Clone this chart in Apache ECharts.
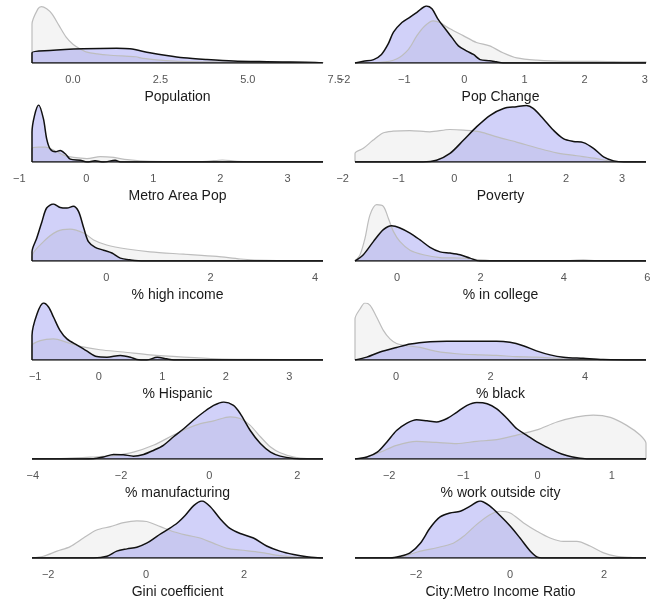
<!DOCTYPE html>
<html>
<head>
<meta charset="utf-8">
<script src="https://cdn.jsdelivr.net/npm/echarts@6/dist/echarts.min.js"></script>
<style>
  html, body { margin: 0; padding: 0; background: #fff; }
  #chart { width: 667px; height: 604px; }
</style>
</head>
<body>
<div id="chart"></div>
<script>
// panel titles, x ranges of the densities, tick values
const titles = ['Population', 'Pop Change', 'Metro Area Pop', 'Poverty', '% high income', '% in college',
  '% Hispanic', '% black', '% manufacturing', '% work outside city', 'Gini coefficient', 'City:Metro Income Ratio'];
const ranges = [[-1.17, 7.15], [-1.82, 3.02], [-0.81, 3.53], [-1.78, 3.43], [-1.42, 4.15], [-1.01, 5.97],
  [-1.05, 3.53], [-0.87, 5.29], [-4.02, 2.58], [-2.46, 1.46], [-2.33, 3.61], [-3.30, 2.89]];
const ticks = [[0, 2.5, 5, 7.5], [-2, -1, 0, 1, 2, 3], [-1, 0, 1, 2, 3], [-2, -1, 0, 1, 2, 3], [0, 2, 4], [0, 2, 4, 6],
  [-1, 0, 1, 2, 3], [0, 2, 4], [-4, -2, 0, 2], [-2, -1, 0, 1], [-2, 0, 2], [-2, 0, 2]];
const tickDecimals = [1, 0, 0, 0, 0, 0, 0, 0, 0, 0, 0, 0];

// densities (relative height), grey = all places, blue = selected
const popGrey = [[-1.17,0],[-1.17,0.68],[-1.0,0.95],[-0.9,0.99],[-0.75,0.95],[-0.6,0.86],[-0.4,0.66],[-0.2,0.46],[0,0.33],[0.2,0.25],[0.4,0.19],[0.7,0.16],[1.0,0.14],[1.5,0.12],[1.8,0.11],[2.0,0.08],[2.5,0.05],[3.0,0.03],[4.0,0.02],[5.0,0.012],[7.15,0.008],[7.15,0]];
const popBlue = [[-1.17,0],[-1.17,0.18],[-0.66,0.22],[0.3,0.25],[1.25,0.26],[1.63,0.25],[2.2,0.18],[2.68,0.13],[3.16,0.09],[3.83,0.06],[4.59,0.035],[5.55,0.024],[7.15,0.01],[7.15,0]];
const chgGrey = [[-1.82,0],[-1.4,0.01],[-1.13,0.07],[-0.93,0.24],[-0.79,0.48],[-0.66,0.65],[-0.52,0.74],[-0.41,0.71],[-0.24,0.6],[-0.02,0.48],[0.2,0.36],[0.42,0.3],[0.64,0.18],[0.87,0.09],[1.2,0.05],[1.64,0.03],[2.2,0.03],[2.75,0.02],[3.02,0.02],[3.02,0]];
const chgBlue = [[-1.82,0],[-1.68,0.03],[-1.51,0.06],[-1.38,0.15],[-1.27,0.33],[-1.18,0.54],[-1.04,0.71],[-0.91,0.8],[-0.79,0.89],[-0.63,1.0],[-0.54,0.95],[-0.44,0.77],[-0.32,0.6],[-0.21,0.45],[-0.1,0.3],[0.04,0.21],[0.15,0.15],[0.26,0.06],[0.42,0.04],[0.53,0.02],[0.64,0],[3.02,0]];
const metroGrey = [[-0.81,0],[-0.81,0.23],[-0.71,0.26],[-0.61,0.26],[-0.49,0.21],[-0.34,0.12],[-0.19,0.08],[0.01,0.06],[0.21,0.095],[0.41,0.08],[0.61,0.04],[0.96,0.01],[1.45,0.005],[1.8,0.012],[2.03,0.035],[2.25,0.012],[2.7,0.003],[3.53,0.002],[3.53,0]];
const metroBlue = [[-0.81,0],[-0.81,0.52],[-0.71,1.0],[-0.64,0.76],[-0.59,0.4],[-0.54,0.23],[-0.46,0.18],[-0.39,0.2],[-0.31,0.14],[-0.24,0.05],[-0.09,0.03],[0.01,0],[0.13,0.02],[0.26,0],[0.43,0.03],[0.51,0],[3.53,0]];
const povGrey = [[-1.78,0],[-1.78,0.15],[-1.63,0.24],[-1.46,0.38],[-1.28,0.51],[-1.1,0.54],[-0.8,0.55],[-0.44,0.53],[-0.08,0.57],[0.16,0.56],[0.46,0.53],[0.76,0.44],[1.11,0.35],[1.47,0.25],[1.83,0.16],[2.19,0.11],[2.55,0.06],[2.85,0.01],[3.43,0]];
const povBlue = [[-1.78,0],[-0.56,0],[-0.32,0.03],[-0.08,0.15],[0.16,0.38],[0.4,0.62],[0.64,0.82],[0.88,0.94],[1.11,0.97],[1.29,0.99],[1.41,0.94],[1.59,0.76],[1.77,0.56],[1.95,0.41],[2.13,0.36],[2.31,0.34],[2.49,0.24],[2.67,0.09],[2.85,0.02],[3.03,0],[3.43,0]];
const highGrey = [[-1.42,0],[-1.42,0.08],[-1.2,0.34],[-0.94,0.52],[-0.69,0.56],[-0.43,0.49],[-0.24,0.37],[0.01,0.28],[0.4,0.21],[0.84,0.16],[1.48,0.12],[2.12,0.08],[2.57,0.035],[3.08,0.01],[4.15,0]];
const highBlue = [[-1.42,0],[-1.42,0.16],[-1.33,0.4],[-1.23,0.69],[-1.14,0.93],[-1.01,1.0],[-0.88,0.94],[-0.75,0.93],[-0.63,0.96],[-0.53,0.87],[-0.43,0.58],[-0.34,0.34],[-0.21,0.24],[-0.05,0.19],[0.11,0.14],[0.27,0.05],[0.46,0.02],[0.71,0],[4.15,0]];
const collGrey = [[-1.01,0],[-0.89,0.11],[-0.77,0.4],[-0.65,0.81],[-0.49,0.99],[-0.33,0.96],[-0.21,0.75],[-0.09,0.52],[0.07,0.34],[0.31,0.19],[0.63,0.11],[1.03,0.06],[1.59,0.05],[1.99,0.02],[2.39,0.005],[3.99,0.005],[4.47,0.02],[4.79,0.005],[5.97,0]];
const collBlue = [[-1.01,0],[-0.81,0.11],[-0.57,0.34],[-0.33,0.55],[-0.13,0.62],[0.07,0.58],[0.31,0.49],[0.55,0.37],[0.79,0.24],[1.03,0.16],[1.27,0.14],[1.51,0.11],[1.75,0.05],[1.99,0],[5.97,0]];
const hispGrey = [[-1.05,0],[-1.05,0.25],[-0.92,0.34],[-0.71,0.37],[-0.5,0.31],[-0.29,0.24],[0.02,0.18],[0.39,0.14],[0.81,0.09],[1.34,0.05],[1.86,0.02],[2.39,0.01],[3.53,0]];
const hispBlue = [[-1.05,0],[-1.05,0.43],[-0.97,0.81],[-0.87,1.0],[-0.79,0.93],[-0.71,0.75],[-0.61,0.52],[-0.5,0.37],[-0.34,0.26],[-0.19,0.16],[-0.03,0.06],[0.13,0.05],[0.34,0.08],[0.5,0.05],[0.6,0.01],[0.76,0],[0.92,0.05],[1.07,0.02],[1.18,0],[3.53,0]];
const blackGrey = [[-0.87,0],[-0.87,0.72],[-0.76,0.9],[-0.66,1.0],[-0.55,0.96],[-0.41,0.75],[-0.27,0.52],[-0.13,0.37],[0.01,0.29],[0.23,0.25],[0.51,0.22],[0.86,0.15],[1.28,0.11],[1.78,0.09],[2.13,0.08],[2.55,0.06],[2.97,0.05],[3.54,0.02],[4.24,0.005],[5.29,0]];
const blackBlue = [[-0.87,0],[-0.62,0.05],[-0.34,0.14],[0.01,0.22],[0.3,0.28],[0.72,0.32],[1.07,0.33],[1.42,0.33],[1.78,0.33],[2.13,0.33],[2.41,0.31],[2.69,0.25],[2.97,0.16],[3.26,0.09],[3.54,0.05],[3.96,0.03],[4.38,0.01],[5.29,0]];
const manuGrey = [[-4.02,0],[-3.23,0.01],[-2.63,0.035],[-2.17,0.06],[-1.72,0.12],[-1.27,0.24],[-0.81,0.42],[-0.51,0.53],[-0.2,0.62],[0.1,0.67],[0.48,0.74],[0.7,0.71],[0.93,0.59],[1.16,0.39],[1.39,0.21],[1.61,0.11],[1.92,0.035],[2.22,0.005],[2.58,0]];
const manuBlue = [[-4.02,0],[-3.23,0],[-2.63,0.005],[-2.4,0.035],[-2.17,0.08],[-1.95,0.076],[-1.72,0.05],[-1.49,0.08],[-1.27,0.15],[-1.04,0.24],[-0.81,0.39],[-0.58,0.53],[-0.36,0.68],[-0.13,0.82],[0.1,0.94],[0.33,1.0],[0.55,0.94],[0.7,0.8],[0.93,0.5],[1.16,0.27],[1.39,0.12],[1.61,0.05],[1.92,0.01],[2.22,0],[2.58,0]];
const workGrey = [[-2.46,0],[-2.3,0.035],[-2.12,0.12],[-1.9,0.24],[-1.63,0.31],[-1.36,0.29],[-1.09,0.27],[-0.82,0.31],[-0.55,0.34],[-0.28,0.42],[-0.01,0.51],[0.26,0.65],[0.53,0.74],[0.75,0.77],[0.98,0.73],[1.2,0.59],[1.38,0.42],[1.46,0.27],[1.46,0]];
const workBlue = [[-2.46,0],[-2.3,0.035],[-2.16,0.12],[-2.03,0.3],[-1.9,0.5],[-1.76,0.63],[-1.63,0.69],[-1.49,0.67],[-1.36,0.65],[-1.22,0.71],[-1.09,0.82],[-0.95,0.94],[-0.82,0.99],[-0.68,0.97],[-0.55,0.88],[-0.41,0.71],[-0.28,0.53],[-0.15,0.42],[-0.01,0.3],[0.12,0.21],[0.26,0.12],[0.39,0.06],[0.53,0.02],[0.66,0],[1.46,0]];
const giniGrey = [[-2.33,0],[-2.1,0.03],[-1.82,0.12],[-1.55,0.2],[-1.28,0.35],[-1.01,0.49],[-0.73,0.55],[-0.46,0.62],[-0.19,0.65],[0.01,0.64],[0.29,0.55],[0.56,0.46],[0.83,0.4],[1.1,0.35],[1.37,0.26],[1.65,0.17],[1.92,0.14],[2.33,0.1],[2.73,0.04],[3.14,0.01],[3.61,0]];
const giniBlue = [[-2.33,0],[-1.07,0],[-0.8,0.03],[-0.6,0.12],[-0.39,0.16],[-0.19,0.19],[0.01,0.26],[0.22,0.38],[0.42,0.49],[0.63,0.61],[0.8,0.75],[0.97,0.92],[1.14,1.0],[1.31,0.9],[1.51,0.69],[1.71,0.52],[1.92,0.43],[2.19,0.35],[2.46,0.21],[2.73,0.12],[3.01,0.06],[3.28,0.02],[3.55,0],[3.61,0]];
const ratioGrey = [[-3.3,0],[-2.55,0.005],[-2.27,0.03],[-1.91,0.12],[-1.56,0.18],[-1.21,0.26],[-0.99,0.38],[-0.71,0.59],[-0.43,0.76],[-0.21,0.82],[0,0.79],[0.28,0.62],[0.57,0.47],[0.85,0.35],[1.13,0.29],[1.42,0.29],[1.7,0.21],[1.99,0.09],[2.27,0.03],[2.55,0.01],[2.89,0]];
const ratioBlue = [[-3.3,0],[-2.55,0],[-2.34,0.03],[-2.13,0.09],[-1.91,0.26],[-1.7,0.53],[-1.49,0.72],[-1.28,0.79],[-1.06,0.82],[-0.85,0.91],[-0.64,1.0],[-0.43,0.91],[-0.21,0.74],[0,0.56],[0.21,0.35],[0.43,0.12],[0.6,0.01],[0.78,0],[2.89,0]];

const greyCurves = [popGrey, chgGrey, metroGrey, povGrey, highGrey, collGrey, hispGrey, blackGrey, manuGrey, workGrey, giniGrey, ratioGrey];
const blueCurves = [popBlue, chgBlue, metroBlue, povBlue, highBlue, collBlue, hispBlue, blackBlue, manuBlue, workBlue, giniBlue, ratioBlue];

const chart = echarts.init(document.getElementById('chart'), null, { renderer: 'canvas' });

const grids = [], xAxes = [], yAxes = [], series = [], texts = [];
const panelW = 291;

titles.forEach((title, i) => {
  const row = Math.floor(i / 2), col = i % 2;
  const x0 = col ? 355 : 32;
  const [lo, hi] = ranges[i];
  const tk = ticks[i];
  const scale = panelW / (hi - lo);
  const axMin = Math.min(lo, tk[0]);
  const axMax = Math.max(hi, tk[tk.length - 1]);
  const top = 6 + 99 * row;

  grids.push({
    left: x0 + (axMin - lo) * scale,
    top: top,
    width: (axMax - axMin) * scale,
    height: 57
  });
  xAxes.push({
    type: 'value',
    gridIndex: i,
    min: axMin,
    max: axMax,
    axisLine: { show: false },
    axisTick: { show: false },
    splitLine: { show: false },
    axisLabel: {
      customValues: tk,
      margin: 11,
      fontSize: 11,
      color: '#555',
      fontFamily: 'Liberation Sans',
      formatter: v => v.toFixed(tickDecimals[i]).replace('-', '\u2212')
    }
  });
  yAxes.push({
    type: 'value',
    gridIndex: i,
    min: 0,
    max: 1,
    show: false
  });
  series.push({
    type: 'line',
    xAxisIndex: i,
    yAxisIndex: i,
    data: greyCurves[i],
    smooth: 0.3,
    showSymbol: false,
    silent: true,
    lineStyle: { color: '#bdbdbd', width: 1.2 },
    areaStyle: { color: 'rgba(190,190,190,0.24)' }
  });
  series.push({
    type: 'line',
    xAxisIndex: i,
    yAxisIndex: i,
    data: blueCurves[i],
    smooth: 0.3,
    showSymbol: false,
    silent: true,
    lineStyle: { color: '#111', width: 1.5 },
    areaStyle: { color: 'rgba(0,0,220,0.26)' }
  });
  // bottom edge of the density polygons
  series.push({
    type: 'line',
    xAxisIndex: i,
    yAxisIndex: i,
    data: [[lo, 0], [hi, 0]],
    showSymbol: false,
    silent: true,
    lineStyle: { color: '#111', width: 1.5 }
  });
  texts.push({
    type: 'text',
    x: x0 + panelW / 2,
    y: 97 + 99 * row,
    style: {
      text: title,
      fill: '#1a1a1a',
      font: '14px "Liberation Sans"',
      textAlign: 'center',
      textVerticalAlign: 'middle'
    }
  });
});

chart.setOption({
  backgroundColor: '#fff',
  animation: false,
  grid: grids,
  xAxis: xAxes,
  yAxis: yAxes,
  series: series,
  graphic: texts
});
</script>
</body>
</html>
